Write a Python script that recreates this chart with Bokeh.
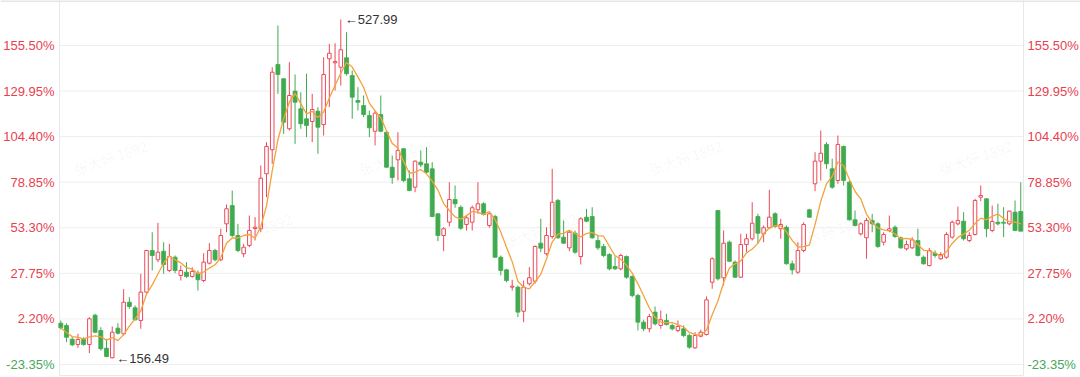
from bokeh.plotting import figure
from bokeh.models import Range1d, ColumnDataSource
from bokeh.core.properties import value
from bokeh.embed import file_html
from bokeh.resources import INLINE

# ---------------------------------------------------------------- data
base_price = 195.5  # reference price for the percentage scale

opens = [195.1, 192.6, 177.5, 171.7, 177.2, 171.7, 203.9, 187.1, 167.7, 157.2,
         189.6, 183.5, 218.1, 212.0, 198.1, 229.1, 274.8, 264.6, 274.0, 252.9,
         267.4, 247.4, 251.0, 246.3, 249.9, 241.9, 260.9, 274.8, 264.6, 304.0,
         324.1, 291.2, 271.2, 280.3, 298.9, 298.6, 358.9, 385.2, 478.7, 463.0,
         408.2, 449.4, 430.1, 419.1, 416.2, 427.5, 412.9, 484.9, 480.5, 475.7,
         486.0, 466.6, 439.2, 433.7, 422.8, 405.5, 423.8, 404.4, 366.1, 374.2,
         386.3, 353.4, 344.2, 371.6, 369.8, 364.3, 315.0, 291.2, 305.8, 330.7,
         322.2, 303.3, 305.8, 319.4, 326.0, 302.2, 312.0, 267.4, 253.6, 234.6,
         234.6, 208.2, 238.3, 241.1, 282.8, 271.2, 290.1, 329.6, 289.4, 277.7,
         293.7, 268.2, 311.3, 312.0, 285.7, 279.2, 270.4, 257.2, 254.7, 268.2,
         246.3, 225.5, 196.2, 189.0, 207.2, 192.6, 198.1, 192.6, 187.1, 189.0,
         181.6, 168.1, 180.8, 182.7, 240.0, 318.6, 244.9, 283.9, 262.0, 245.5,
         281.3, 287.6, 312.0, 293.1, 299.7, 315.0, 298.6, 300.3, 260.2, 251.0,
         274.8, 319.4, 347.9, 372.7, 391.0, 364.3, 351.5, 388.8, 349.6, 308.4,
         293.1, 288.7, 307.7, 304.0, 283.9, 296.7, 300.3, 288.7, 276.6, 277.7,
         285.7, 267.4, 258.3, 271.8, 265.7, 267.4, 289.4, 304.0, 306.9, 285.7,
         292.3, 333.2, 331.4, 296.7, 305.8, 305.8, 304.0, 316.8, 317.5]

highs = [198.0, 194.8, 179.7, 183.5, 179.7, 201.7, 205.4, 190.7, 178.0, 191.5,
         195.1, 232.4, 223.6, 214.5, 249.2, 275.5, 294.8, 305.1, 283.9, 282.1,
         269.3, 258.3, 262.0, 256.5, 252.9, 271.8, 282.8, 276.6, 298.6, 325.2,
         340.5, 304.0, 282.1, 313.1, 311.3, 367.9, 393.5, 475.7, 521.4, 463.5,
         481.2, 467.7, 448.3, 468.5, 446.5, 431.9, 486.7, 501.3, 502.0, 527.99,
         514.1, 472.1, 453.8, 444.7, 428.2, 428.2, 444.7, 406.3, 378.9, 404.4,
         387.0, 362.5, 373.4, 384.4, 388.0, 371.6, 315.5, 300.3, 349.6, 346.0,
         324.1, 313.1, 324.1, 349.6, 327.7, 316.8, 313.9, 269.3, 254.7, 242.7,
         236.4, 241.9, 256.5, 280.3, 309.5, 300.3, 364.3, 331.4, 307.7, 296.7,
         296.7, 311.3, 320.5, 322.2, 291.2, 282.1, 271.8, 268.2, 271.2, 269.3,
         247.4, 227.3, 198.8, 205.4, 213.4, 209.0, 205.4, 194.4, 198.1, 192.6,
         183.5, 185.2, 187.9, 224.4, 267.4, 319.0, 296.7, 285.7, 263.8, 293.1,
         293.1, 327.7, 315.0, 302.2, 341.3, 316.8, 309.5, 302.2, 263.8, 283.9,
         305.8, 320.5, 382.5, 406.3, 393.5, 375.3, 400.8, 389.9, 351.5, 318.6,
         305.8, 310.6, 315.0, 305.8, 294.8, 313.1, 302.2, 290.1, 285.7, 289.4,
         298.6, 269.3, 277.7, 274.8, 272.9, 294.8, 307.7, 323.0, 316.8, 294.8,
         331.4, 346.0, 332.0, 324.1, 326.0, 322.2, 318.6, 329.6, 349.6]

lows = [188.2, 174.3, 169.9, 168.1, 170.6, 162.2, 184.1, 165.2, 157.8, 156.49,
        182.7, 181.6, 210.9, 198.1, 189.0, 227.3, 252.9, 262.0, 249.2, 251.0,
        249.9, 241.9, 244.9, 244.9, 230.9, 240.0, 259.4, 263.0, 263.0, 294.8,
        289.4, 272.9, 267.4, 278.4, 285.7, 294.8, 333.2, 369.8, 446.5, 402.7,
        406.3, 391.7, 408.2, 399.0, 393.5, 380.8, 400.8, 431.9, 450.2, 455.6,
        466.6, 419.1, 428.2, 420.9, 399.0, 389.9, 404.4, 365.4, 347.9, 351.5,
        349.6, 339.8, 338.7, 366.1, 358.9, 311.3, 285.0, 274.0, 301.1, 321.6,
        297.5, 296.7, 296.7, 315.0, 313.1, 299.7, 266.8, 247.4, 240.0, 230.9,
        201.7, 196.2, 236.4, 238.3, 272.9, 269.3, 287.6, 287.6, 282.1, 274.0,
        271.2, 259.4, 305.8, 287.6, 275.5, 267.4, 252.9, 253.6, 252.9, 243.8,
        223.6, 187.1, 186.3, 185.2, 192.6, 189.0, 192.6, 187.1, 185.2, 179.7,
        167.0, 167.0, 179.7, 181.6, 232.8, 241.9, 236.4, 262.0, 244.9, 244.9,
        272.9, 285.7, 282.1, 283.9, 298.6, 299.7, 287.6, 259.4, 248.5, 249.2,
        272.9, 310.6, 339.8, 351.5, 364.3, 342.4, 347.9, 346.0, 307.7, 301.1,
        291.2, 265.7, 294.8, 277.7, 280.3, 294.8, 288.7, 276.6, 274.8, 276.6,
        268.2, 259.4, 257.2, 266.8, 264.6, 265.7, 287.6, 302.2, 285.7, 283.9,
        291.2, 328.8, 289.4, 294.8, 302.2, 289.4, 302.2, 295.9, 295.9]

closes = [190.0, 179.7, 171.4, 177.2, 171.7, 199.9, 185.2, 167.0, 158.6, 185.2,
          184.1, 218.1, 213.4, 198.8, 229.1, 274.8, 269.3, 272.9, 259.4, 268.2,
          252.9, 252.9, 246.3, 251.8, 242.7, 262.0, 274.8, 264.6, 291.2, 320.5,
          291.2, 274.8, 278.4, 296.7, 300.3, 354.0, 388.8, 470.2, 467.7, 415.4,
          444.7, 437.3, 413.7, 411.8, 429.3, 409.9, 467.7, 491.0, 481.9, 494.8,
          468.5, 442.8, 437.3, 423.8, 409.3, 425.3, 405.5, 366.1, 354.8, 384.4,
          351.5, 340.5, 372.7, 368.7, 360.6, 312.0, 291.2, 298.6, 330.7, 326.0,
          299.2, 310.6, 321.6, 326.0, 314.2, 315.0, 267.4, 252.9, 241.9, 235.6,
          207.2, 234.6, 244.9, 279.2, 277.3, 291.2, 327.7, 288.7, 282.8, 294.8,
          272.9, 309.5, 306.9, 288.7, 277.7, 269.3, 254.7, 254.7, 269.3, 245.5,
          225.5, 196.2, 189.0, 202.4, 194.4, 198.8, 193.7, 189.0, 191.5, 181.6,
          168.8, 181.6, 185.2, 220.7, 265.7, 243.8, 282.8, 263.0, 245.5, 281.3,
          287.6, 304.7, 293.7, 299.7, 311.3, 301.1, 303.3, 260.2, 253.6, 274.8,
          303.3, 311.3, 372.7, 381.4, 369.8, 344.2, 391.0, 351.5, 308.4, 302.2,
          304.0, 307.7, 304.0, 279.2, 292.3, 298.6, 290.1, 277.7, 281.3, 286.5,
          269.3, 260.2, 274.8, 269.3, 270.4, 292.3, 305.8, 307.7, 287.6, 291.2,
          329.6, 335.1, 298.6, 306.6, 304.0, 304.7, 317.9, 296.7, 296.0]

tick_pcts = [-23.35, 2.20, 27.75, 53.30, 78.85, 104.40, 129.95, 155.50]
watermark_text = "张大妈 1892"

# ---------------------------------------------------------------- layout
W, H = 1080, 377
X0_PX, STEP_PX = 60.3, 5.714        # centre of first candle, candle pitch
TOP_PRICE, PX_PER_UNIT = 548.8, 1 / 1.0961
AREA_LEFT_PX, AREA_RIGHT_PX, AREA_BOTTOM_PX = 59, 1023, 375

RED = "#ec4a5a"
GREEN = "#3fab4e"
LABEL_RED = "#e8414f"
LABEL_GREEN = "#45a85a"
MA_COLOR = "#f3a33b"


def px_x(px):
    return (px - X0_PX) / STEP_PX


def px_y(py):
    return TOP_PRICE - py / PX_PER_UNIT


n = len(closes)
idx = list(range(n))

# 5-day moving average of closes
ma5 = []
for i in range(n):
    window = closes[max(0, i - 4): i + 1]
    ma5.append(sum(window) / len(window))

up = [c >= o for o, c in zip(opens, closes)]
src_up = ColumnDataSource(dict(
    x=[i for i in idx if up[i]],
    top=[max(opens[i], closes[i]) for i in idx if up[i]],
    bottom=[min(opens[i], closes[i]) for i in idx if up[i]],
    high=[highs[i] for i in idx if up[i]],
    low=[lows[i] for i in idx if up[i]],
))
src_dn = ColumnDataSource(dict(
    x=[i for i in idx if not up[i]],
    top=[max(opens[i], closes[i]) for i in idx if not up[i]],
    bottom=[min(opens[i], closes[i]) for i in idx if not up[i]],
    high=[highs[i] for i in idx if not up[i]],
    low=[lows[i] for i in idx if not up[i]],
))

p = figure(width=W, height=H, output_backend="svg", toolbar_location=None,
           x_axis_location=None, y_axis_location=None, min_border=0,
           x_range=Range1d(px_x(0), px_x(W)),
           y_range=Range1d(px_y(H), px_y(0)))
p.outline_line_color = None
p.xgrid.visible = False
p.ygrid.visible = False
p.background_fill_color = "white"
p.border_fill_color = "white"

xl, xr = px_x(AREA_LEFT_PX), px_x(AREA_RIGHT_PX)
tick_prices = [base_price * (1 + t / 100) for t in tick_pcts]

# watermark
wm_pos = [(110, 157), (395, 157), (685, 157), (975, 157),
          (255, 230), (540, 230), (830, 230)]
p.text(x=[px_x(a) for a, b in wm_pos], y=[px_y(b) for a, b in wm_pos],
       text=[watermark_text] * len(wm_pos), angle=0.33,
       text_align="center", text_baseline="middle",
       text_font=value("Noto Sans CJK SC"), text_font_size="14px",
       text_color="#000000", text_alpha=0.045)

# horizontal grid lines
p.segment(x0=[xl] * len(tick_prices), x1=[xr] * len(tick_prices),
          y0=tick_prices, y1=tick_prices, line_color="#eeeeee", line_width=1)

# frame of the plotting area
yb, yt = px_y(AREA_BOTTOM_PX), px_y(0)
p.segment(x0=[xl, xr, xl], x1=[xl, xr, xr], y0=[yb, yb, yb], y1=[yt, yt, yb],
          line_color="#e8e8e8", line_width=1)
p.segment(x0=[px_x(0)], x1=[px_x(W)], y0=[px_y(0.5)], y1=[px_y(0.5)],
          line_color="#dddddd", line_width=1.5)

# wicks
p.segment(x0="x", x1="x", y0="low", y1="high", source=src_up,
          line_color=RED, line_width=1)
p.segment(x0="x", x1="x", y0="low", y1="high", source=src_dn,
          line_color=GREEN, line_width=1)

# bodies: hollow for rising days, filled for falling days
p.vbar(x="x", top="top", bottom="bottom", width=0.62, source=src_up,
       fill_color="white", line_color=RED, line_width=1)
p.vbar(x="x", top="top", bottom="bottom", width=0.7, source=src_dn,
       fill_color=GREEN, line_color=GREEN, line_width=0.8)

# moving average
p.line(x=idx, y=ma5, line_color=MA_COLOR, line_width=1.3)

# percentage labels on both sides
labels = [f"{t:.2f}%" for t in tick_pcts]
colors = [LABEL_GREEN if t < 0 else LABEL_RED for t in tick_pcts]
p.text(x=[xl] * len(labels), y=tick_prices, text=labels, text_color=colors,
       text_align="right", text_baseline="middle", x_offset=-5,
       text_font=value("Liberation Sans"), text_font_size="13px")
p.text(x=[xr] * len(labels), y=tick_prices, text=labels, text_color=colors,
       text_align="left", text_baseline="middle", x_offset=4,
       text_font=value("Liberation Sans"), text_font_size="13px")

# highest and lowest price markers
i_hi = max(idx, key=lambda i: highs[i])
i_lo = min(idx, key=lambda i: lows[i])
p.text(x=[i_hi, i_lo], y=[highs[i_hi], lows[i_lo]],
       text=[f"←{highs[i_hi]:.2f}", f"←{lows[i_lo]:.2f}"],
       text_align="left", text_baseline="middle", x_offset=4,
       text_font=value("Liberation Sans"), text_font_size="13px",
       text_color="#333333")

open("out.html", "w").write(file_html(p, INLINE))
